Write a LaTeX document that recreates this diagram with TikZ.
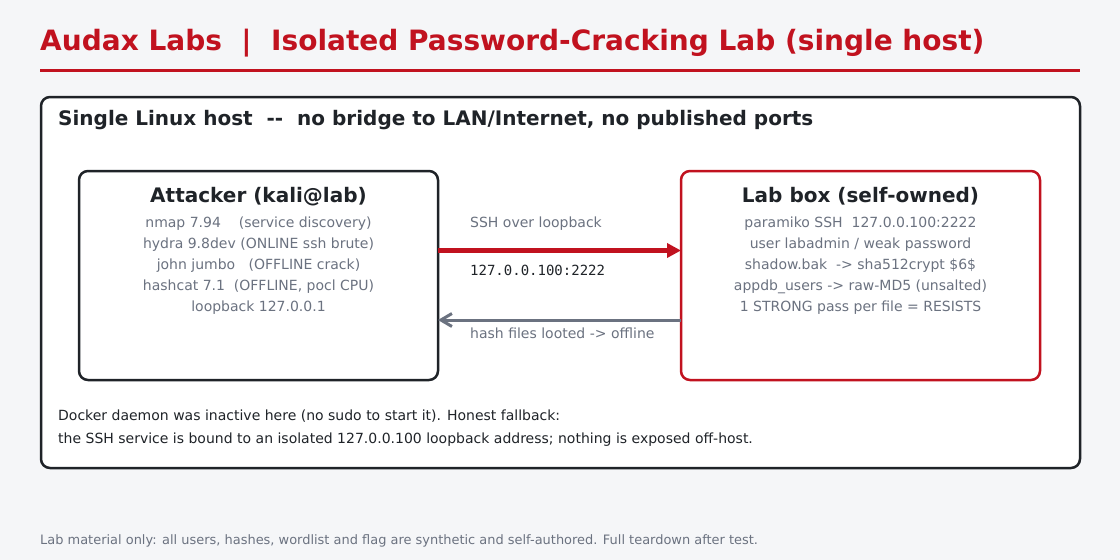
\documentclass[tikz,border=0pt]{standalone}
\usepackage{fontspec}
\setmainfont{DejaVu Sans}
\setmonofont{DejaVu Sans Mono}
\usetikzlibrary{arrows.meta,positioning}
\definecolor{audaxred}{HTML}{C1121F}
\definecolor{ink}{HTML}{1F2328}
\definecolor{muted}{HTML}{6B7280}
\definecolor{paper}{HTML}{F5F6F8}
\begin{document}
\begin{tikzpicture}[x=1pt,y=-1pt,
  box/.style={draw=ink,line width=2.5pt,rounded corners=9pt,fill=white,outer sep=0pt,inner sep=0pt,anchor=north west,minimum width=359pt,minimum height=209pt},
  boxtitle/.style={anchor=base,inner sep=0pt,font=\fontsize{20}{24}\selectfont\bfseries,text=ink},
  boxlines/.style={anchor=north,inner sep=0pt,align=center,font=\fontsize{14}{21}\selectfont,text=muted},
  lbl/.style={anchor=base west,inner sep=0pt,font=\fontsize{14}{16}\selectfont,text=muted}]
\fill[paper](0,0)rectangle(1120,560);
\useasboundingbox(0,0)rectangle(1120,560);
% header
\node[anchor=base west,inner sep=0pt,text=audaxred,font=\fontsize{28}{32}\selectfont\bfseries](title)at(40,50){Audax Labs~~|~~Isolated Password-Cracking Lab (single host)};
\draw[audaxred,line width=3pt](40,70)--(1080,70);
% the host
\node[box,minimum width=1039pt,minimum height=371pt](host)at(41,97){};
\node[anchor=base west,inner sep=0pt,text=ink,font=\fontsize{20}{24}\selectfont\bfseries](hostname)at(58,125){Single Linux host~~{-}{-}~~no bridge to LAN/Internet, no published ports};
% attacker
\node[box](atk)at(79,171){};
\node[boxtitle](atktitle)at(258.5,202){Attacker (kali@lab)};
\node[boxlines](atklist)at(258.5,216.5){nmap 7.94~~~~(service discovery)\\hydra 9.8dev (ONLINE ssh brute)\\john jumbo~~~(OFFLINE crack)\\hashcat 7.1~~(OFFLINE, pocl CPU)\\loopback 127.0.0.1};
% lab box
\node[box,draw=audaxred](lab)at(681,171){};
\node[boxtitle](labtitle)at(860.5,202){Lab box (self-owned)};
\node[boxlines](lablist)at(860.5,216.5){paramiko SSH~~127.0.0.100:2222\\user labadmin / weak password\\shadow.bak~~-> sha512crypt \$6\$\\appdb\_users -> raw-MD5 (unsalted)\\1 STRONG pass per file = RESISTS};
% links
\draw[audaxred,line width=5pt,-{Triangle[length=14pt,width=14pt]}](atk.east|-0,250.5)--(lab.west|-0,250.5);
\node[lbl](ssh)at(470,227){SSH over loopback};
\node[lbl,text=ink,font=\ttfamily\fontsize{14}{16}\selectfont](addr)at(470,275){127.0.0.100:2222};
\draw[muted,line width=3pt,-{Straight Barb[length=11pt,width=13pt]}](lab.west|-0,320)--(atk.east|-0,320);
\node[lbl](loot)at(470,338){hash files looted -> offline};
% note + footer
\node[anchor=north west,inner sep=0pt,align=left,text=ink,font=\fontsize{14}{23}\selectfont](note)at(58,410){Docker daemon was inactive here (no sudo to start it). Honest fallback:\\the SSH service is bound to an isolated 127.0.0.100 loopback address; nothing is exposed off-host.};
\node[anchor=base west,inner sep=0pt,text=muted,font=\fontsize{12.95}{15}\selectfont](foot)at(40,544){Lab material only: all users, hashes, wordlist and flag are synthetic and self-authored. Full teardown after test.};
\end{tikzpicture}
\end{document}
